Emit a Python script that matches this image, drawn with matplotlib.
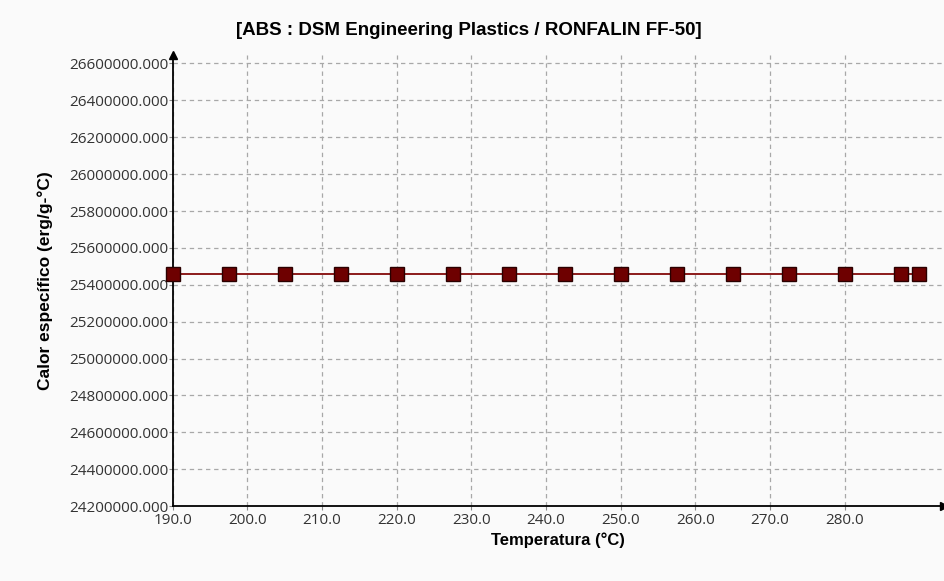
import numpy as np
import matplotlib.pyplot as plt

temps = [190.0, 197.5, 205.0, 212.5, 220.0, 227.5, 235.0, 242.5, 250.0,
         257.5, 265.0, 272.5, 280.0, 287.5, 290.0]
cp = [25460000.0] * len(temps)

xticks = np.arange(190, 281, 10)
yticks = np.arange(24200000, 26600001, 200000)

fig = plt.figure(figsize=(9.44, 5.81), dpi=100, facecolor='#fafafa')
ax = fig.add_axes([0.183, 0.129, 0.817, 0.776], facecolor='#fafafa')

ax.plot(temps, cp, color='#8b1a1a', lw=1.4, marker='s', ms=10,
        mfc='#6e0000', mec='#2a0000', mew=1.0, zorder=3, clip_on=False)

ax.set_xlim(190, 293.3)
ax.set_ylim(24200000, 26645000)
ax.set_xticks(xticks)
ax.set_xticklabels([f'{v:.1f}' for v in xticks])
ax.set_yticks(yticks)
ax.set_yticklabels([f'{v:.3f}' for v in yticks])

ax.grid(True, ls=(0, (3.5, 3)), color='#a8a8a8', lw=0.9)
for s in ['top', 'right']:
    ax.spines[s].set_visible(False)
ax.spines['left'].set_linewidth(1.3)
ax.spines['bottom'].set_linewidth(1.3)
ax.tick_params(axis='both', length=3, color='#888888', labelsize=11,
               labelcolor='#333333')
ax.tick_params(axis='x', pad=2)
ax.tick_params(axis='y', pad=0)
for lab in ax.get_xticklabels() + ax.get_yticklabels():
    lab.set_family('Open Sans')

# arrow heads on the axes
ax.plot([0], [1], marker='^', color='black', ms=6, transform=ax.transAxes, clip_on=False)
ax.plot([1], [0], marker='>', color='black', ms=6, transform=ax.transAxes, clip_on=False)

ax.set_xlabel('Temperatura (°C)', fontsize=12, fontweight='bold',
              family='Liberation Sans', labelpad=3)
ax.set_ylabel('Calor específico (erg/g-°C)', fontsize=12.5, fontweight='bold',
              family='Liberation Sans', labelpad=12)
fig.text(0.497, 0.948, '[ABS : DSM Engineering Plastics / RONFALIN FF-50]',
         ha='center', va='center', fontsize=13.5, fontweight='bold',
         family='Liberation Sans')

fig.savefig('out.png', dpi=100, facecolor=fig.get_facecolor())
